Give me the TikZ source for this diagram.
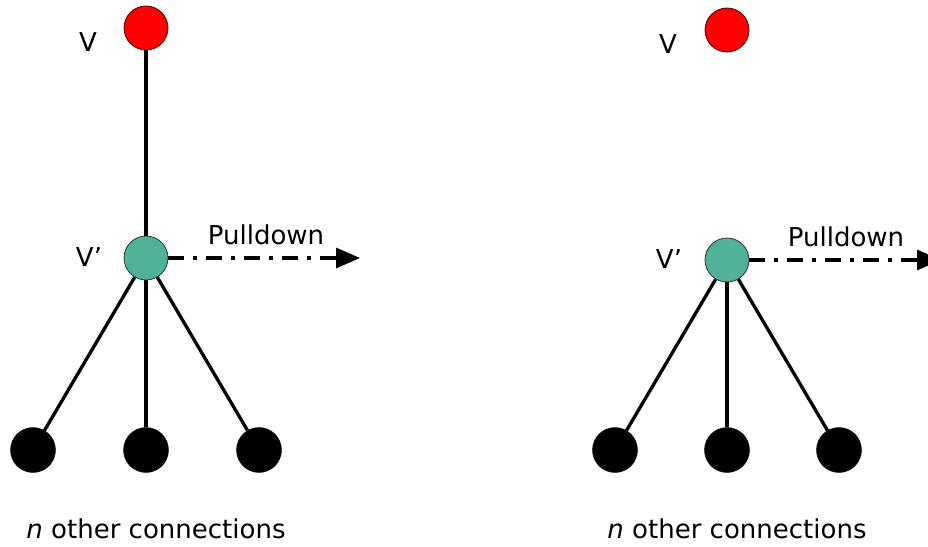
\documentclass[tikz,border=0pt]{standalone}
\usepackage{fontspec}
\setmainfont{DejaVu Sans}
\usetikzlibrary{arrows.meta}
\definecolor{vred}{RGB}{255,0,0}
\definecolor{vteal}{RGB}{80,176,152}
\tikzset{
  redv/.style={circle,draw=black!70!red,line width=0.8pt,fill=vred,minimum size=44pt,inner sep=0pt},
  tealv/.style={circle,draw=black!80,line width=0.8pt,fill=vteal,minimum size=44pt,inner sep=0pt},
  blackv/.style={circle,draw=black,fill=black,minimum size=45pt,inner sep=0pt},
  lbl/.style={font=\fontsize{26}{30}\selectfont,inner sep=0pt},
  edge/.style={line width=3.3pt,black},
  pull/.style={line width=3.3pt,dash pattern=on 16pt off 9pt on 4pt off 9pt,-{Triangle[length=24pt,width=20pt]}}
}
\begin{document}
\begin{tikzpicture}[x=1pt,y=-1pt]
\useasboundingbox (0,0) rectangle (928,546);
% left
\node[redv] (lv) at (146,28) {};
\node[lbl] (lvl) at (88,42) {V};
\node[tealv] (lt) at (146,258) {};
\node[lbl] (ltl) at (89,257) {V’};
\node[blackv] (lb1) at (33,450) {};
\node[blackv] (lb2) at (146,450) {};
\node[blackv] (lb3) at (259,450) {};
\coordinate (la) at (360,258);
\draw[edge] (lv) -- (lt);
\draw[edge] (lt) -- (lb1);
\draw[edge] (lt) -- (lb2);
\draw[edge] (lt) -- (lb3);
\draw[pull] (lt) -- (la);
\node[lbl] (lpl) at (266,235) {Pulldown};
\node[lbl] (lnt) at (156,529) {\textit{n} other connections};
% right
\node[redv] (rv) at (727,30) {};
\node[lbl] (rvl) at (668,44) {V};
\node[tealv] (rt) at (727,260) {};
\node[lbl] (rtl) at (669,259) {V’};
\node[blackv] (rb1) at (615,450) {};
\node[blackv] (rb2) at (727,450) {};
\node[blackv] (rb3) at (839,450) {};
\coordinate (ra) at (941,260);
\draw[edge] (rt) -- (rb1);
\draw[edge] (rt) -- (rb2);
\draw[edge] (rt) -- (rb3);
\draw[pull] (rt) -- (ra);
\node[lbl] (rpl) at (846,237) {Pulldown};
\node[lbl] (rnt) at (737,529) {\textit{n} other connections};
\end{tikzpicture}
\end{document}
